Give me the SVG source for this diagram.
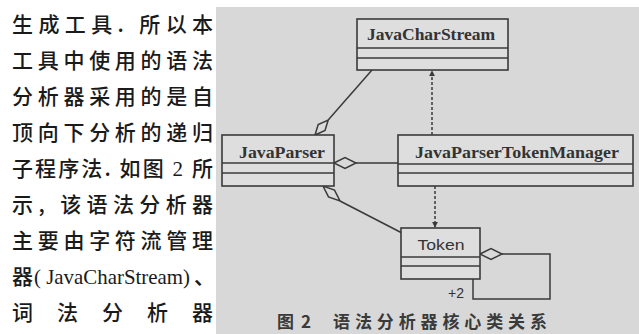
<svg xmlns="http://www.w3.org/2000/svg" width="639" height="334" viewBox="0 0 639 334">
<defs>
<style>
.para{font-family:"Noto Sans CJK SC","Liberation Sans",sans-serif;font-size:21px;font-weight:500;fill:#1a1a1a}
.lat{font-family:"Liberation Serif","Times New Roman","DejaVu Serif",serif;font-weight:normal}
.box{fill:#dedede;stroke:#3a3a3a;stroke-width:1.6}
.div{stroke:#3a3a3a;stroke-width:1.4}
.lbl{font-family:"Liberation Serif","Times New Roman","DejaVu Serif",serif;font-weight:bold;font-size:16px;fill:#333;text-anchor:middle}
.lbls{font-family:"Liberation Sans",sans-serif;font-size:15px;fill:#333;text-anchor:middle}
.ln{fill:none;stroke:#3a3a3a;stroke-width:1.5}
.dia{fill:#dadada;stroke:#3a3a3a;stroke-width:1.5}
.dash{fill:none;stroke:#3a3a3a;stroke-width:1.5;stroke-dasharray:3 2}
.cap{font-family:"Noto Sans CJK SC",sans-serif;font-weight:bold;font-size:17px;fill:#3a3a3a}
</style>
<marker id="arr" viewBox="0 0 8 8" refX="7" refY="4" markerWidth="6" markerHeight="6" orient="auto" markerUnits="userSpaceOnUse">
<path d="M0,0 L8,4 L0,8 z" fill="#3a3a3a"/>
</marker>
</defs>
<rect x="0" y="0" width="639" height="334" fill="#ffffff"/>
<g id="paragraph">
<text class="para" x="12" y="32" textLength="201" lengthAdjust="spacing">生成工具. 所以本</text>
<text class="para" x="12" y="68" textLength="201" lengthAdjust="spacing">工具中使用的语法</text>
<text class="para" x="12" y="104" textLength="201" lengthAdjust="spacing">分析器采用的是自</text>
<text class="para" x="12" y="140" textLength="201" lengthAdjust="spacing">顶向下分析的递归</text>
<text class="para" x="12" y="176" textLength="201" lengthAdjust="spacing">子程序法. 如图 <tspan class="lat">2</tspan> 所</text>
<text class="para" x="12" y="212" textLength="201" lengthAdjust="spacing">示, 该语法分析器</text>
<text class="para" x="12" y="248" textLength="201" lengthAdjust="spacing">主要由字符流管理</text>
<text class="para" x="12" y="284">器</text>
<text class="para lat" x="34" y="284" textLength="156" lengthAdjust="spacingAndGlyphs">( JavaCharStream)</text>
<text class="para" x="194" y="284">、</text>
<text class="para" x="12" y="320" textLength="201" lengthAdjust="spacing">词 法 分 析 器</text>
</g>
<rect x="216" y="7" width="423" height="327" fill="#d8d8d8"/>
<g id="connectors">
<polygon class="dia" points="315,135 325,130.5 328.2,120 318.2,124.5"/>
<line class="ln" x1="328.2" y1="120" x2="372" y2="70"/>
<polygon class="dia" points="334,163 345,157.5 356,163 345,168.5"/>
<line class="ln" x1="356" y1="163" x2="398" y2="163"/>
<polygon class="dia" points="323,186 328.5,196.9 340,201 334.5,190.1"/>
<line class="ln" x1="340" y1="201" x2="402" y2="233"/>
<line class="dash" x1="432" y1="135" x2="432" y2="71" marker-end="url(#arr)"/>
<line class="dash" x1="435" y1="186" x2="435" y2="227" marker-end="url(#arr)"/>
<polygon class="dia" points="480,254 491,248.5 502,254 491,259.5"/>
<polyline class="ln" points="502,254 550,254 550,299 473,299 473,279"/>
<text x="448" y="298" font-family="Liberation Sans, sans-serif" font-size="14" fill="#333">+2</text>
</g>
<g id="JavaCharStream">
<rect class="box" x="357" y="19" width="151" height="51"/>
<line class="div" x1="357" y1="48" x2="508" y2="48"/>
<line class="div" x1="357" y1="58" x2="508" y2="58"/>
<text class="lbl" x="431" y="40" textLength="128" lengthAdjust="spacingAndGlyphs">JavaCharStream</text>
</g>
<g id="JavaParser">
<rect class="box" x="222" y="135" width="112" height="51"/>
<line class="div" x1="222" y1="163" x2="334" y2="163"/>
<line class="div" x1="222" y1="173" x2="334" y2="173"/>
<text class="lbl" x="282" y="158" textLength="86" lengthAdjust="spacingAndGlyphs">JavaParser</text>
</g>
<g id="JavaParserTokenManager">
<rect class="box" x="398" y="135" width="235" height="51"/>
<line class="div" x1="398" y1="164" x2="633" y2="164"/>
<line class="div" x1="398" y1="173" x2="633" y2="173"/>
<text class="lbl" x="517" y="158" textLength="204" lengthAdjust="spacingAndGlyphs">JavaParserTokenManager</text>
</g>
<g id="Token">
<rect class="box" x="401" y="228" width="79" height="51"/>
<line class="div" x1="401" y1="257" x2="480" y2="257"/>
<line class="div" x1="401" y1="266" x2="480" y2="266"/>
<text class="lbls" x="441" y="250" textLength="47" lengthAdjust="spacingAndGlyphs">Token</text>
</g>
<g id="caption">
<text class="cap" x="277" y="328" textLength="34" lengthAdjust="spacing">图 2</text>
<text class="cap" x="333" y="328" textLength="214" lengthAdjust="spacing">语法分析器核心类关系</text>
</g>
</svg>
